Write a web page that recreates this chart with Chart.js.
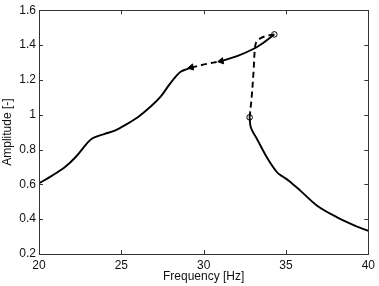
<!DOCTYPE html>
<html>
<head>
<meta charset="utf-8">
<script src="https://cdn.jsdelivr.net/npm/chart.js@4/dist/chart.umd.min.js"></script>
<style>
html,body{margin:0;padding:0;background:#fff;}
#wrap{width:379px;height:286px;position:relative;}
</style>
</head>
<body>
<div id="wrap"><canvas id="c" width="379" height="286"></canvas></div>
<script>
// Stable lower-frequency branch (solid)
const branch1X = [20, 20.8, 21.6, 22.2, 22.7, 23.1, 23.4, 24.0, 24.6, 25.3, 26.0, 26.8, 27.4, 27.9, 28.3, 28.6, 29.0, 29.25];
const branch1Y = [0.606, 0.650, 0.701, 0.754, 0.811, 0.854, 0.871, 0.890, 0.909, 0.944, 0.985, 1.048, 1.105, 1.171, 1.219, 1.247, 1.262, 1.270];
// Dashed segment between the triangles
const branch2X = [29.25, 30.1, 31.07];
const branch2Y = [1.270, 1.290, 1.308];
// Solid segment up to the upper turning point
const branch3X = [31.07, 32.07, 33.07, 33.7, 34.29];
const branch3Y = [1.308, 1.338, 1.380, 1.418, 1.461];
// Dashed unstable branch (jump down)
const branch4X = [34.29, 33.8, 33.47, 33.2, 33.11, 33.03, 32.91, 32.79];
const branch4Y = [1.461, 1.452, 1.440, 1.418, 1.380, 1.247, 1.095, 0.985];
// Solid high-frequency branch
const branch5X = [32.79, 32.87, 33.27, 33.87, 34.47, 34.8, 35.17, 35.87, 36.87, 38.08, 39.28, 40];
const branch5Y = [0.985, 0.925, 0.855, 0.750, 0.668, 0.645, 0.621, 0.564, 0.479, 0.412, 0.359, 0.333];
// Markers
const triangleX = [29.25, 31.07];
const triangleY = [1.272, 1.308];
const circleX = [34.29, 32.79];
const circleY = [1.461, 0.985];
// Axes
const xTickValues = [20, 25, 30, 35, 40];
const xTickLabels = ['20', '25', '30', '35', '40'];
const yTickValues = [0.2, 0.4, 0.6, 0.8, 1.0, 1.2, 1.4, 1.6];
const yTickLabels = ['0.2', '0.4', '0.6', '0.8', '1', '1.2', '1.4', '1.6'];
const xTitle = 'Frequency [Hz]';
const yTitle = 'Amplitude [-]';

const pts = (xs, ys) => xs.map((x, i) => ({x: x, y: ys[i]}));
const FONT = {family: '"Liberation Sans", Arial, Helvetica, sans-serif', size: 12};

const lineDs = (xs, ys, dashed) => ({
  type: 'line',
  data: pts(xs, ys),
  borderColor: '#000',
  borderWidth: 1.9,
  borderDash: dashed ? [6, 4] : [],
  pointRadius: 0,
  tension: 0.35,
  fill: false
});

const boxTicks = {
  id: 'boxTicks',
  afterDatasetsDraw(chart) {
    const ctx = chart.ctx;
    const a = chart.chartArea;
    const xs = chart.scales.x, ys = chart.scales.y;
    const L = 4;
    ctx.save();
    ctx.strokeStyle = '#333';
    ctx.lineWidth = 1;
    ctx.beginPath();
    xTickValues.forEach(v => {
      const px = Math.round(xs.getPixelForValue(v)) + 0.5;
      ctx.moveTo(px, a.bottom); ctx.lineTo(px, a.bottom - L);
      ctx.moveTo(px, a.top); ctx.lineTo(px, a.top + L);
    });
    yTickValues.forEach(v => {
      const py = Math.round(ys.getPixelForValue(v)) + 0.5;
      ctx.moveTo(a.left, py); ctx.lineTo(a.left + L, py);
      ctx.moveTo(a.right, py); ctx.lineTo(a.right - L, py);
    });
    ctx.stroke();
    ctx.strokeRect(Math.round(a.left) + 0.5, Math.round(a.top) + 0.5,
                   Math.round(a.right - a.left), Math.round(a.bottom - a.top));
    ctx.restore();
  }
};

new Chart(document.getElementById('c'), {
  data: {
    datasets: [
      lineDs(branch1X, branch1Y, false),
      lineDs(branch2X, branch2Y, true),
      lineDs(branch3X, branch3Y, false),
      lineDs(branch4X, branch4Y, true),
      lineDs(branch5X, branch5Y, false),
      {
        type: 'scatter',
        data: pts(triangleX, triangleY),
        pointStyle: 'triangle',
        rotation: -100,
        pointRadius: 3.6,
        backgroundColor: '#000',
        borderColor: '#000',
        borderWidth: 1
      },
      {
        type: 'scatter',
        data: pts(circleX, circleY),
        pointStyle: 'circle',
        pointRadius: 2.8,
        backgroundColor: '#fff',
        borderColor: '#000',
        borderWidth: 1
      }
    ]
  },
  options: {
    responsive: false,
    animation: false,
    devicePixelRatio: 1,
    layout: {padding: {top: 8, right: 7, left: 0, bottom: 0}},
    plugins: {legend: {display: false}, tooltip: {enabled: false}},
    scales: {
      x: {
        type: 'linear',
        min: 20, max: 40,
        afterBuildTicks: s => { s.ticks = xTickValues.map(v => ({value: v})); },
        afterFit: s => { s.height = 32; },
        grid: {display: false, drawTicks: false},
        border: {display: false},
        ticks: {
          font: FONT, color: '#111', padding: 4, maxRotation: 0, autoSkip: false,
          callback: (v, i) => xTickLabels[i]
        },
        title: {display: true, text: xTitle, font: FONT, color: '#111', padding: {top: 0, bottom: 2}}
      },
      y: {
        type: 'linear',
        min: 0.2, max: 1.6,
        afterBuildTicks: s => { s.ticks = yTickValues.map(v => ({value: v})); },
        afterFit: s => { s.width = 39; },
        grid: {display: false, drawTicks: false},
        border: {display: false},
        ticks: {
          font: FONT, color: '#111', padding: 3, autoSkip: false,
          callback: (v, i) => yTickLabels[i]
        },
        title: {display: true, text: yTitle, font: FONT, color: '#111', padding: {top: 0, bottom: 0}}
      }
    }
  },
  plugins: [boxTicks]
});
</script>
</body>
</html>
